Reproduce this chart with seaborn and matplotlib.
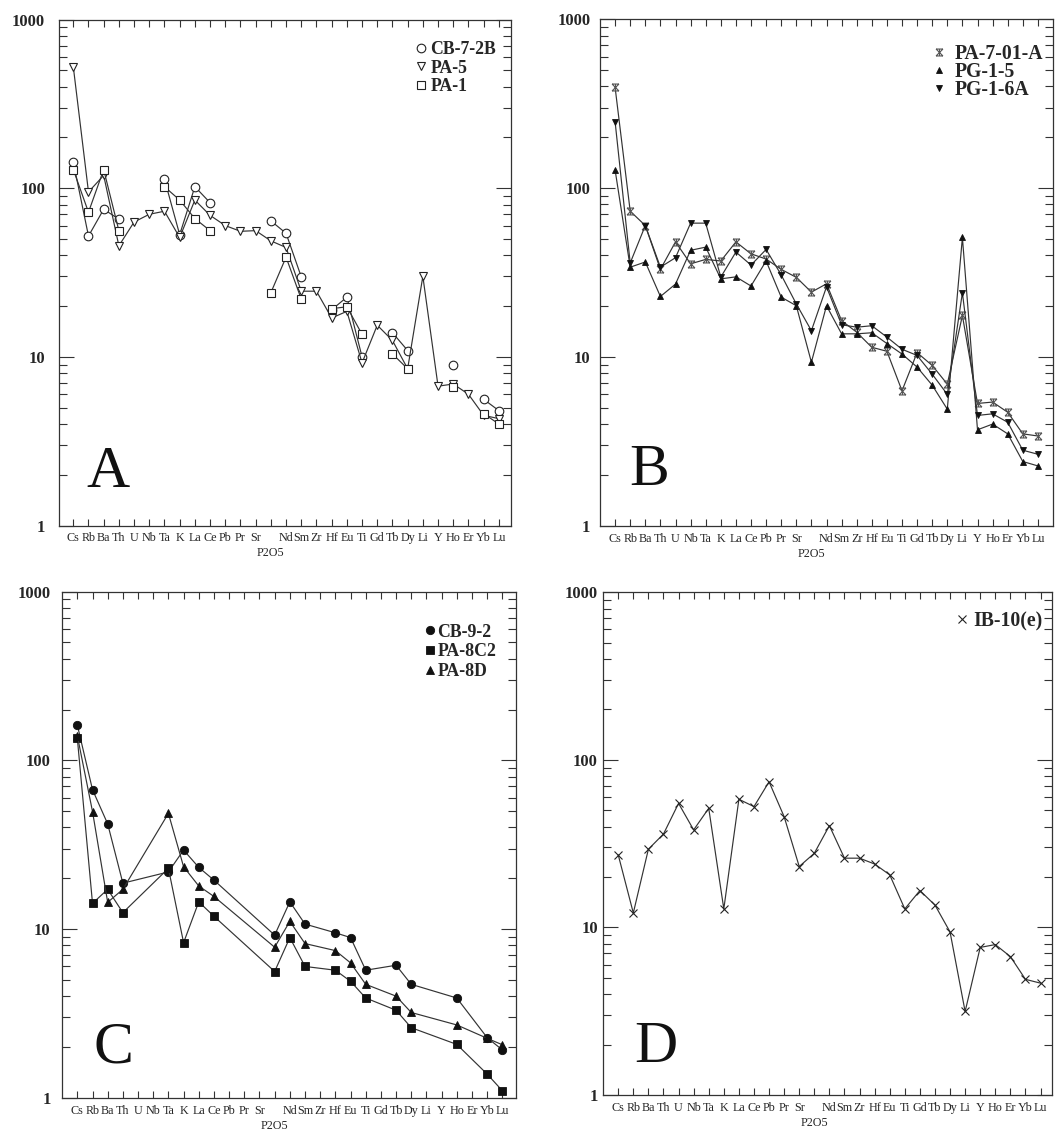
import numpy as np
import pandas as pd
import matplotlib
matplotlib.use("Agg")
import matplotlib.pyplot as plt
import seaborn as sns
from matplotlib.lines import Line2D
from matplotlib.path import Path
from matplotlib.ticker import FixedLocator, LogLocator, NullFormatter
from matplotlib.font_manager import FontProperties

nan = np.nan
elements = ["Cs", "Rb", "Ba", "Th", "U", "Nb", "Ta", "K", "La", "Ce", "Pb", "Pr", "Sr",
            "P2O5", "Nd", "Sm", "Zr", "Hf", "Eu", "Ti", "Gd", "Tb", "Dy", "Li", "Y",
            "Ho", "Er", "Yb", "Lu"]

# Panel A
a_names = ["CB-7-2B", "PA-5", "PA-1"]
a_cb72b = [143, 52, 75, 65.5, nan, nan, 113, 53, 102, 82, nan, nan, nan, 64, 54, 29.8,
           nan, 19, 22.6, 10, nan, 13.9, 10.9, nan, nan, 8.9, nan, 5.6, 4.8]
a_pa5 = [525, 95, 119, 45.5, 63, 70, 73, 51, 85, 69, 60, 55.5, 56, 48.7, 44.5, 24.5,
         24.5, 17, 18.6, 9.2, 15.4, 12.5, 8.5, 30, 6.7, 6.9, 6.0, 4.5, 4.3]
a_pa1 = [129, 72, 129, 56, nan, nan, 102, 85, 66, 56, nan, nan, nan, 24, 39, 22,
         nan, 19.3, 19.8, 13.6, nan, 10.4, 8.5, nan, nan, 6.6, nan, 4.6, 4.0]

# Panel B
b_names = ["PA-7-01-A", "PG-1-5", "PG-1-6A"]
b_pa701a = [395, 73, 60, 33, 48, 35.6, 37.8, 37, 48, 40.8, 38, 33, 29.6, 24.2, 27.1,
            16.4, 14, 11.4, 10.8, 6.3, 10.6, 8.9, 6.9, 17.6, 5.3, 5.4, 4.7, 3.5, 3.4]
b_pg15 = [128, 34, 36.5, 22.8, 27, 42.8, 44.7, 29, 29.8, 26.3, 37, 22.6, 20.1, 9.3, 20.1,
          13.7, 13.7, 13.9, 12, 10.4, 8.7, 6.8, 4.9, 51, 3.7, 4.0, 3.5, 2.4, 2.26]
b_pg16a = [247, 36, 60, 34, 38.7, 62, 62, 29.7, 41.8, 35, 43.3, 30.6, 20.6, 14.3, 26,
           15.5, 15, 15.3, 13.1, 11.1, 10.2, 7.9, 6.0, 24, 4.5, 4.6, 4.1, 2.8, 2.65]

# Panel C
c_names = ["CB-9-2", "PA-8C2", "PA-8D"]
c_cb92 = [162, 67, 42, 18.7, nan, nan, 21.8, 29.4, 23.2, 19.5, nan, nan, nan, 9.2, 14.5,
          10.7, nan, 9.5, 8.9, 5.7, nan, 6.1, 4.7, nan, nan, 3.9, nan, 2.27, 1.92]
c_pa8c2 = [135, 14.2, 17.2, 12.5, nan, nan, 22.9, 8.3, 14.5, 11.9, nan, nan, nan, 5.6, 8.9,
           6.0, nan, 5.7, 4.9, 3.9, nan, 3.3, 2.6, nan, nan, 2.07, nan, 1.38, 1.10]
c_pa8d = [140, 49.7, 14.4, 17.2, nan, nan, 48.5, 23.4, 18, 15.6, nan, nan, nan, 7.8, 11.1,
          8.2, nan, 7.45, 6.3, 4.7, nan, 4.0, 3.2, nan, nan, 2.7, nan, 2.25, 2.06]

# Panel D
d_names = ["IB-10(e)"]
d_ib10e = [27.1, 12.2, 29.3, 36.1, 55, 38.2, 51.4, 12.9, 58.2, 52.6, 74, 45.8, 23.1, 27.7,
           40.5, 25.9, 25.9, 23.9, 20.6, 12.9, 16.6, 13.6, 9.4, 3.15, 7.6, 7.9, 6.7, 4.9, 4.65]

yticks = [1, 10, 100, 1000]
ytick_labels = ["1", "10", "100", "1000"]

# ---------------------------------------------------------------
sns.set_style("ticks")
plt.rcParams["font.family"] = ["Liberation Serif", "DejaVu Serif"]
SERIF = ["Liberation Serif", "DejaVu Serif"]

W, H = 1063, 1147
fig = plt.figure(figsize=(W / 100, H / 100), dpi=100)
fig.patch.set_facecolor("white")


def px_axes(l, r, t, b):
    return fig.add_axes([l / W, 1 - b / H, (r - l) / W, (b - t) / H])


axA = px_axes(59, 511, 19.5, 525.5)
axB = px_axes(600, 1053, 19.3, 525.7)
axC = px_axes(61.7, 516, 591.7, 1097.7)
axD = px_axes(602.7, 1052, 592.3, 1095)

star_path = Path([(-1, 1), (1, 1), (-1, -1), (1, -1), (-1, 1), (1, -1), (1, 1), (-1, -1),
                  (0, 1), (0, -1)],
                 [Path.MOVETO, Path.LINETO, Path.MOVETO, Path.LINETO, Path.MOVETO,
                  Path.LINETO, Path.MOVETO, Path.LINETO, Path.MOVETO, Path.LINETO])

LC = "#333333"


def draw(ax, y, connect, **kw):
    df = pd.DataFrame({"x": np.arange(len(elements)), "y": y})
    valid = df["y"].notna()
    if connect:
        segs = [df[valid]]
    else:
        grp = (valid != valid.shift()).cumsum()
        segs = [g for _, g in df[valid].groupby(grp[valid])]
    for s in segs:
        sns.lineplot(data=s, x="x", y="y", ax=ax, estimator=None, sort=False,
                     legend=False, color=LC, lw=0.85, **kw)


styles_A = [dict(marker="o", ms=6.2, mfc="white", mec="#222", mew=0.8),
            dict(marker="v", ms=6.2, mfc="white", mec="#222", mew=0.8),
            dict(marker="s", ms=5.8, mfc="white", mec="#222", mew=0.8)]
styles_B = [dict(marker=star_path, ms=5.0, mfc="none", mec="#555", mew=0.8),
            dict(marker="^", ms=5.0, mfc="#111", mec="#111", mew=0.6),
            dict(marker="v", ms=5.0, mfc="#111", mec="#111", mew=0.6)]
styles_C = [dict(marker="o", ms=6.0, mfc="#111", mec="#111", mew=0.6),
            dict(marker="s", ms=5.5, mfc="#111", mec="#111", mew=0.6),
            dict(marker="^", ms=5.5, mfc="#111", mec="#111", mew=0.6)]
styles_D = [dict(marker="x", ms=5.5, mfc="none", mec="#222", mew=0.8)]

for y, st in zip([a_cb72b, a_pa5, a_pa1], styles_A):
    draw(axA, y, False, **st)
for y, st in zip([b_pa701a, b_pg15, b_pg16a], styles_B):
    draw(axB, y, True, **st)
for y, st in zip([c_cb92, c_pa8c2, c_pa8d], styles_C):
    draw(axC, y, True, **st)
for y, st in zip([d_ib10e], styles_D):
    draw(axD, y, True, **st)

xlabel_fp = FontProperties(family=SERIF, size=8.7)
ylabel_fp = FontProperties(family=SERIF, size=12, weight="bold")

xt_labels = ["" if e == "P2O5" else e for e in elements]
p2o5_idx = elements.index("P2O5")

panel_cfg = [
    (axA, (-0.94, 28.8), 10, "A", (0.060, 0.076)),
    (axB, (-1.0, 29.0), 7, "B", (0.064, 0.080)),
    (axC, (-1.03, 28.9), 8, "C", (0.071, 0.069)),
    (axD, (-1.03, 28.76), 3.5, "D", (0.070, 0.066)),
]
for ax, xl, ypad, letter, lpos in panel_cfg:
    ax.set_yscale("log")
    ax.set_ylim(1, 1000)
    ax.set_xlim(*xl)
    ax.set_xlabel("")
    ax.set_ylabel("")
    ax.set_xticks(range(len(elements)))
    ax.set_xticklabels(xt_labels, fontproperties=xlabel_fp)
    ax.yaxis.set_major_locator(FixedLocator(yticks))
    ax.yaxis.set_minor_locator(LogLocator(base=10, subs=np.arange(2, 10)))
    ax.yaxis.set_minor_formatter(NullFormatter())
    ax.set_yticks(yticks)
    ax.set_yticklabels(ytick_labels, fontproperties=ylabel_fp)
    ax.tick_params(axis="x", which="major", direction="in", top=True, bottom=True,
                   length=5, width=0.8, color="#333", pad=5)
    ax.tick_params(axis="x", which="minor", bottom=False, top=False)
    ax.tick_params(axis="y", which="major", direction="in", left=True, right=True,
                   length=11, width=0.8, color="#333", pad=ypad)
    ax.tick_params(axis="y", which="minor", direction="in", left=True, right=True,
                   length=6, width=0.8, color="#333")
    for sp in ax.spines.values():
        sp.set_visible(True)
        sp.set_linewidth(0.9)
        sp.set_color("#333")
    ax.grid(False)
    ax.set_facecolor("white")
    # P2O5 label sits on a second, lower row under its tick
    ax.annotate(elements[p2o5_idx], xy=(p2o5_idx, 0), xycoords=("data", "axes fraction"),
                xytext=(0, -22), textcoords="offset pixels", ha="center", va="top",
                fontproperties=xlabel_fp, annotation_clip=False)
    ax.text(lpos[0], lpos[1], letter, transform=ax.transAxes, ha="left", va="baseline",
            fontsize=43, family=SERIF, color="#111")


def make_legend(ax, names, styles, anchor, hl, htp, ls, size):
    handles = [Line2D([], [], ls="none", **st) for st in styles]
    fp = FontProperties(family=SERIF, size=size, weight="bold")
    ax.legend(handles, names, loc="upper right", bbox_to_anchor=anchor, frameon=False,
              prop=fp, handlelength=hl, handletextpad=htp, labelspacing=ls,
              borderaxespad=0, borderpad=0)


make_legend(axA, a_names, styles_A, (0.967, 0.957), 0.7, 0.15, 0.08, 12.8)
make_legend(axB, b_names, styles_B, (0.978, 0.952), 0.9, 0.35, -0.09, 14.2)
make_legend(axC, c_names, styles_C, (0.957, 0.937), 0.6, 0.15, 0.15, 12.8)
make_legend(axD, d_names, styles_D, (0.98, 0.962), 0.7, 0.25, 0.1, 14.2)

fig.savefig("out.png", dpi=100, facecolor="white")
